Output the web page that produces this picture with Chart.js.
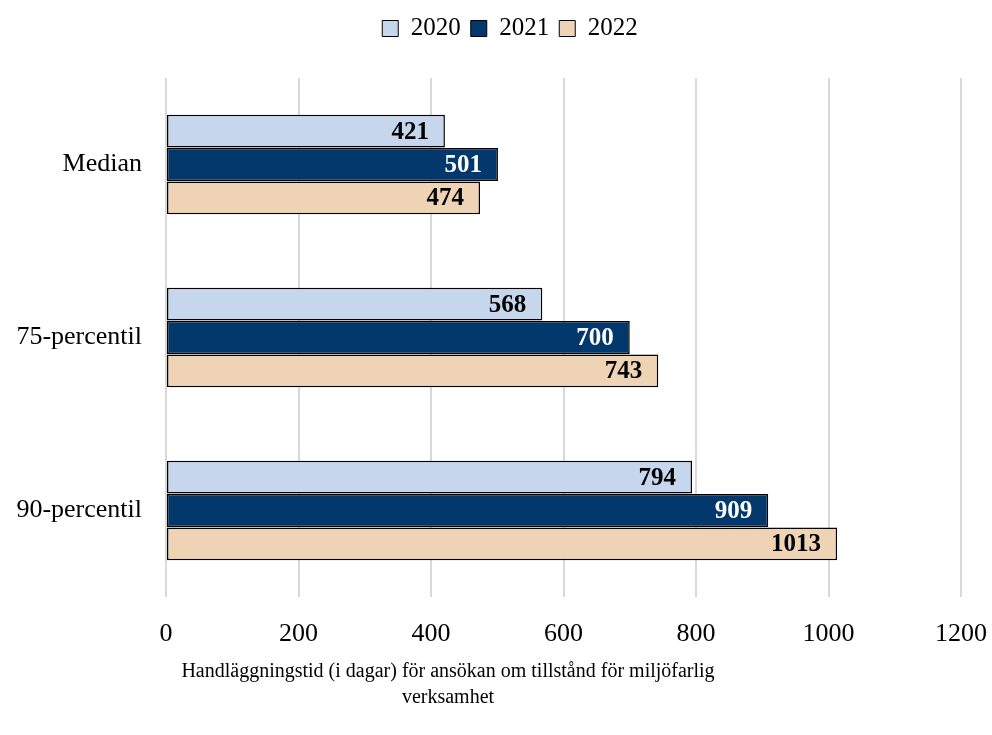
<!DOCTYPE html>
<html>
<head>
<meta charset="utf-8">
<script src="https://cdn.jsdelivr.net/npm/chart.js@4.4.1/dist/chart.umd.min.js"></script>
<style>
    html, body { margin: 0; padding: 0; background: #fff; }
    #wrap { width: 992px; height: 735px; }
</style>
</head>
<body>
<div id="wrap"><canvas id="chart" width="992" height="735"></canvas></div>
<script>
const categories = ["Median", "75-percentil", "90-percentil"];
const seriesNames = ["2020", "2021", "2022"];
const values2020 = [421, 568, 794];
const values2021 = [501, 700, 909];
const values2022 = [474, 743, 1013];
const xTicks = [0, 200, 400, 600, 800, 1000, 1200];
const axisTitle = ["Handläggningstid (i dagar) för ansökan om tillstånd för miljöfarlig", "verksamhet"];

const fill = ["#c6d6ec", "#02386b", "#efd3b5"];
const labelColor = ["#000", "#fff", "#000"];
const serif = "'Liberation Serif', 'Times New Roman', serif";

// value labels at the inner end of each bar
const barLabels = {
    id: "barLabels",
    afterDatasetsDraw(chart) {
        const ctx = chart.ctx;
        ctx.save();
        ctx.font = `bold 25px ${serif}`;
        ctx.textAlign = "right";
        ctx.textBaseline = "middle";
        chart.data.datasets.forEach((ds, i) => {
            chart.getDatasetMeta(i).data.forEach((bar, j) => {
                ctx.fillStyle = labelColor[i];
                ctx.fillText(String(ds.data[j]), bar.x - 16, bar.y + 1);
            });
        });
        ctx.restore();
    }
};

// axis title, sits left of the plot centre in the original
const axisTitlePlugin = {
    id: "axisTitlePlugin",
    afterDraw(chart) {
        const ctx = chart.ctx;
        ctx.save();
        ctx.font = `20px ${serif}`;
        ctx.fillStyle = "#000";
        ctx.textAlign = "center";
        ctx.textBaseline = "middle";
        const cx = 448;
        axisTitle.forEach((line, k) => ctx.fillText(line, cx, 672 + k * 26));
        ctx.restore();
    }
};

// extra gap under the legend, and nudge it right a bit
const legendSpacing = {
    id: "legendSpacing",
    afterInit(chart) {
        const origFit = chart.legend.fit;
        chart.legend.fit = function () {
            origFit.call(this);
            this.height += 27;
        };
    },
    afterLayout(chart) {
        chart.legend.left += 14;
        chart.legend.right += 14;
    }
};

new Chart(document.getElementById("chart"), {
    type: "bar",
    data: {
        labels: categories,
        datasets: [values2020, values2021, values2022].map((vals, i) => ({
            label: seriesNames[i],
            data: vals,
            backgroundColor: fill[i],
            borderColor: "#000",
            borderWidth: 1.5,
            borderSkipped: false,
            categoryPercentage: 0.58,
            barPercentage: 0.98
        }))
    },
    options: {
        indexAxis: "y",
        responsive: false,
        animation: false,
        layout: { padding: { top: 6, right: 0, left: 0, bottom: 0 } },
        plugins: {
            legend: {
                position: "top",
                labels: {
                    color: "#000",
                    font: { family: serif, size: 25 },
                    boxWidth: 16,
                    boxHeight: 16,
                    padding: 10,
                    generateLabels(chart) {
                        return chart.data.datasets.map((ds, i) => ({
                            text: ds.label,
                            fillStyle: ds.backgroundColor,
                            strokeStyle: "#000",
                            lineWidth: 1,
                            fontColor: "#000",
                            datasetIndex: i
                        }));
                    }
                }
            },
            tooltip: { enabled: false }
        },
        scales: {
            x: {
                min: 0,
                max: 1200,
                afterBuildTicks(scale) {
                    scale.ticks = xTicks.map((v) => ({ value: v }));
                },
                afterFit(scale) {
                    scale.height = 138;
                    scale.paddingRight = 31;
                    scale.paddingLeft = 0;
                },
                grid: { color: "#d9d9d9", lineWidth: 2, drawTicks: false },
                border: { display: false },
                ticks: {
                    color: "#000",
                    padding: 22,
                    font: { family: serif, size: 26 },
                    callback: (v) => String(v)
                }
            },
            y: {
                afterFit(scale) { scale.width = 166; },
                grid: { display: false },
                border: { display: false },
                ticks: {
                    color: "#000",
                    padding: 16,
                    font: { family: serif, size: 26 }
                }
            }
        }
    },
    plugins: [barLabels, axisTitlePlugin, legendSpacing]
});
</script>
</body>
</html>
